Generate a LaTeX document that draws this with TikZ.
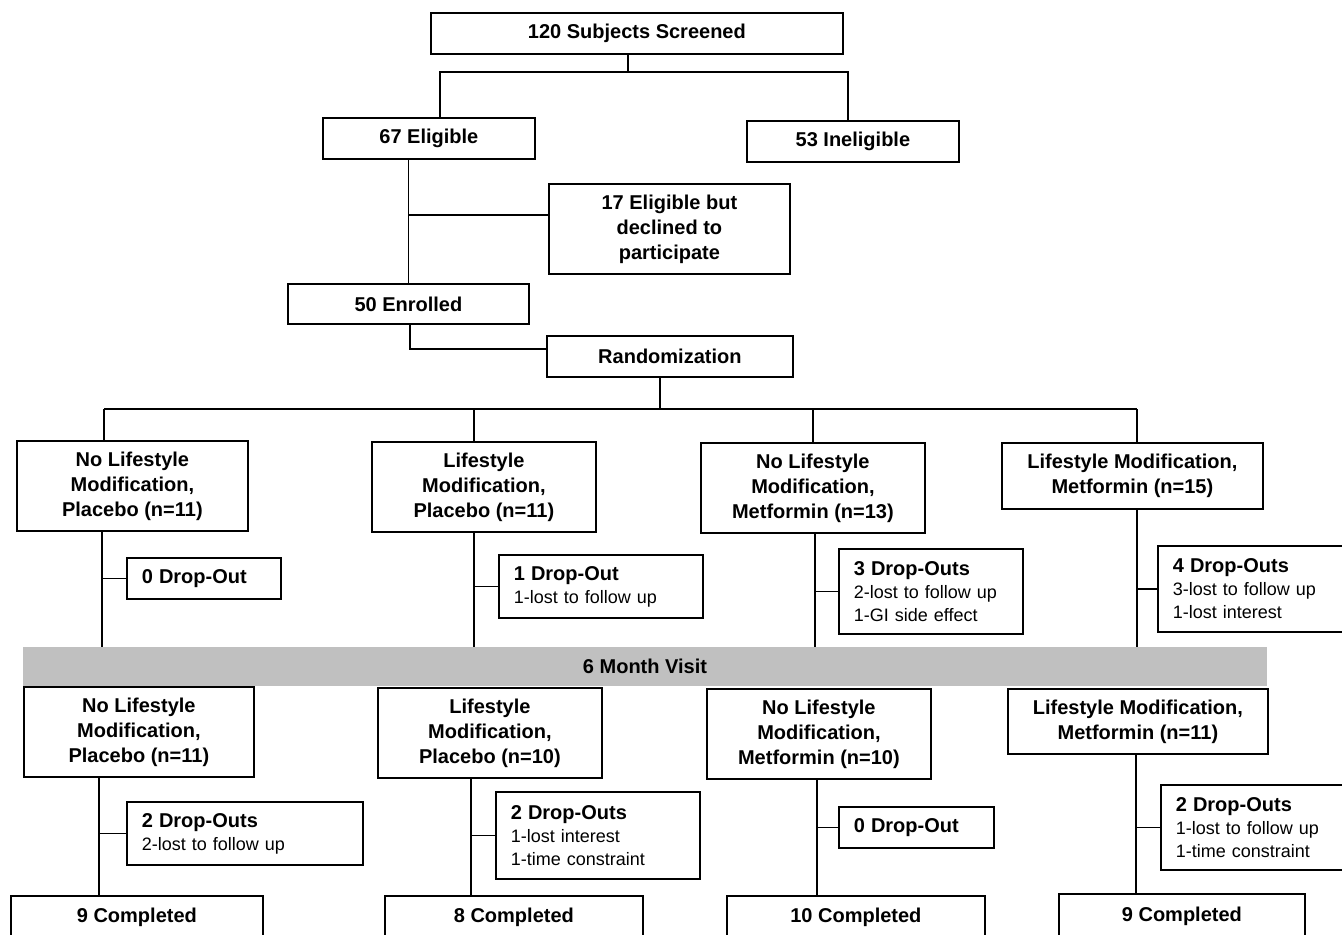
\documentclass[tikz,border=0pt]{standalone}
\usepackage{fontspec}
\setmainfont{Liberation Sans}
\usepackage{tikz}
\usetikzlibrary{positioning,calc}
\definecolor{VisitGray}{HTML}{C0C0C0}
\newcommand{\dropHead}[1]{{\bfseries\fontsize{10}{11.5}\selectfont #1}}

\begin{document}
\begin{tikzpicture}[x=0.5pt, y=-0.5pt,
  box/.style={draw, line width=0.9pt, inner sep=0pt, anchor=north west, align=center,
    font=\bfseries\fontsize{10}{12.5}\selectfont},
  dropbox/.style={draw, line width=0.9pt, inner xsep=7.5pt, inner ysep=0pt, anchor=north west,
    align=left, font=\fontsize{9}{11.5}\selectfont},
  conn/.style={line width=0.9pt}]
\useasboundingbox (0,0) rectangle (1342,935);

% Screening and enrolment
\node[box, minimum width=206pt, minimum height=20.5pt] (scr) at (430,12) {120 Subjects Screened};
\node[box, minimum width=106pt, minimum height=20.5pt] (elig) at (322,117) {67 Eligible};
\node[box, minimum width=106pt, minimum height=20.5pt] (inel) at (746,120) {53 Ineligible};
\node[box, minimum width=120.5pt, minimum height=45pt] (decl) at (548,183) {17 Eligible but\\declined to\\participate};
\node[box, minimum width=120.5pt, minimum height=20pt] (enr) at (287,283) {50 Enrolled};
\node[box, minimum width=123pt, minimum height=20.5pt] (rand) at (546,335) {Randomization};

% Arms at baseline
\node[box, minimum width=115.5pt, minimum height=45pt] (a1) at (16,440) {No Lifestyle\\Modification,\\Placebo (n=11)};
\node[box, minimum width=112pt, minimum height=45pt] (a2) at (371,441) {Lifestyle\\Modification,\\Placebo (n=11)};
\node[box, minimum width=112pt, minimum height=45pt] (a3) at (700,442) {No Lifestyle\\Modification,\\Metformin (n=13)};
\node[box, minimum width=130.5pt, minimum height=33pt] (a4) at (1001,442) {Lifestyle Modification,\\Metformin (n=15)};

% Drop-outs before 6 months
\node[dropbox, text width=62pt, minimum height=20.5pt] (d1) at (126,557) {\dropHead{0 Drop-Out}};
\node[dropbox, text width=87pt, minimum height=31.5pt] (d2) at (498,554) {\dropHead{1 Drop-Out}\\1-lost to follow up};
\node[dropbox, text width=77pt, minimum height=42.5pt] (d3) at (838,548) {\dropHead{3 Drop-Outs}\\2-lost to follow up\\1-GI side effect};
\node[dropbox, text width=81.5pt, minimum height=43pt] (d4) at (1157,545) {\dropHead{4 Drop-Outs}\\3-lost to follow up\\1-lost interest};

% 6 month band
\node[fill=VisitGray, minimum width=622pt, minimum height=19.5pt, inner sep=0pt,
  font=\bfseries\fontsize{10}{12}\selectfont] (visit) at (645,666.5) {6 Month Visit};

% Arms at 6 months
\node[box, minimum width=115pt, minimum height=45pt] (b1) at (23,686) {No Lifestyle\\Modification,\\Placebo (n=11)};
\node[box, minimum width=112pt, minimum height=45pt] (b2) at (377,687) {Lifestyle\\Modification,\\Placebo (n=10)};
\node[box, minimum width=112pt, minimum height=45pt] (b3) at (706,688) {No Lifestyle\\Modification,\\Metformin (n=10)};
\node[box, minimum width=130pt, minimum height=32.5pt] (b4) at (1007,688) {Lifestyle Modification,\\Metformin (n=11)};

% Drop-outs after 6 months
\node[dropbox, text width=103pt, minimum height=31.5pt] (e1) at (126,801) {\dropHead{2 Drop-Outs}\\2-lost to follow up};
\node[dropbox, text width=87pt, minimum height=43.5pt] (e2) at (495,791) {\dropHead{2 Drop-Outs}\\1-lost interest\\1-time constraint};
\node[dropbox, text width=62.5pt, minimum height=20.5pt] (e3) at (838,806) {\dropHead{0 Drop-Out}};
\node[dropbox, text width=80pt, minimum height=42.5pt] (e4) at (1160,784) {\dropHead{2 Drop-Outs}\\1-lost to follow up\\1-time constraint};

% Completed
\node[box, minimum width=126pt, minimum height=21pt] (c1) at (10,895) {9 Completed};
\node[box, minimum width=129pt, minimum height=21pt] (c2) at (384,895) {8 Completed};
\node[box, minimum width=129pt, minimum height=21pt] (c3) at (726,895) {10 Completed};
\node[box, minimum width=123pt, minimum height=22pt] (c4) at (1058,893) {9 Completed};

% Connectors at the top
\coordinate (j0) at (628,72);
\coordinate (jl) at (440,72);
\coordinate (jr) at (848,72);
\draw[conn] (j0 |- scr.south) -- (j0);
\draw[conn] (jl |- elig.north) -- (jl) -- (jr) -- (jr |- inel.north);
\draw[conn] (enr.north |- elig.south) -- (enr.north);
\coordinate (jd) at (408,215);
\draw[conn] (jd) -- (jd -| decl.west);
\coordinate (jn) at (410,349);
\draw[conn] (jn |- enr.south) -- (jn) -- (jn -| rand.west);
\coordinate (jb) at (660,409);
\draw[conn] (jb |- rand.south) -- (jb);

% Connectors for the four arms
\foreach \i/\xa/\xb/\xc in {1/104/102/99, 2/474/474/471, 3/813/815/817, 4/1137/1137/1136}
{
  \coordinate (up\i) at (\xa,409);
  \coordinate (mid\i) at (\xb,0);
  \coordinate (low\i) at (\xc,0);
  \draw[conn] (up\i) -- (up\i |- a\i.north);
  \draw[conn] (mid\i |- a\i.south) -- (mid\i |- visit.north);
  \draw[conn] (d\i.west) -- (d\i.west -| mid\i);
  \draw[conn] (low\i |- b\i.south) -- (low\i |- c\i.north);
  \draw[conn] (e\i.west) -- (e\i.west -| low\i);
}
\draw[conn] (up1) -- (up4);

\end{tikzpicture}
\end{document}
